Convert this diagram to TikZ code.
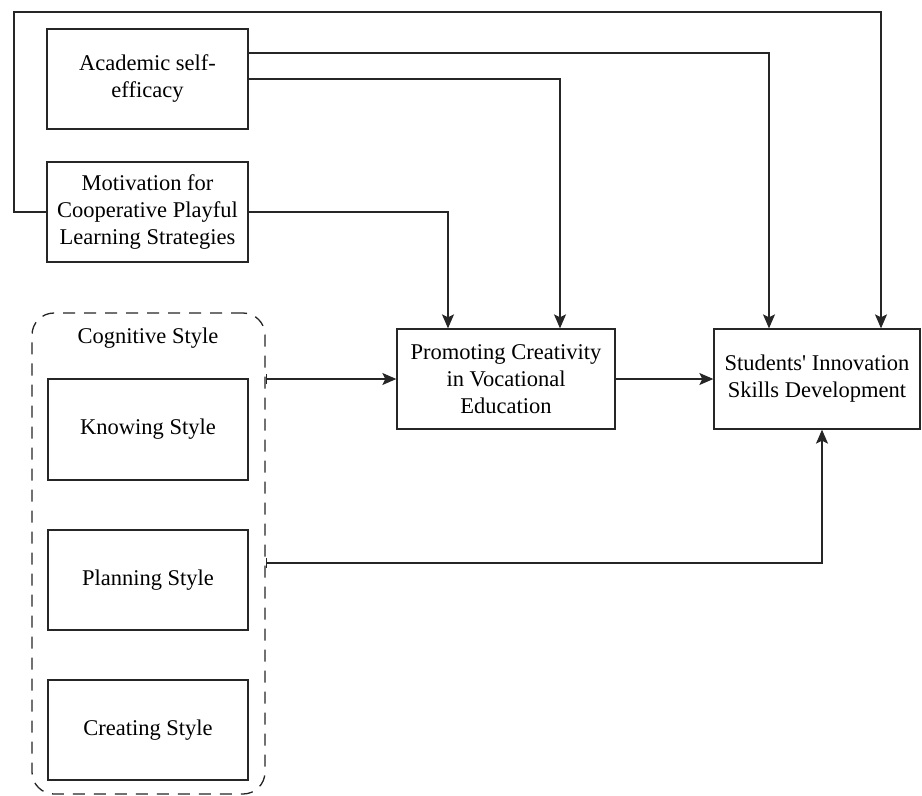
\documentclass[tikz,border=0pt]{standalone}
\usepackage{fontspec}
\setmainfont{Liberation Serif}
\usetikzlibrary{arrows.meta}
\begin{document}
\begin{tikzpicture}[x=1pt,y=-1pt,
  box/.style={draw=black!85, line width=1.3pt, rectangle, align=center, inner sep=0pt, font=\fontsize{22.5}{27}\selectfont},
  group/.style={draw=black!85, line width=1.3pt, dash pattern=on 12pt off 9pt, rounded corners=22pt, rectangle},
  lbl/.style={font=\fontsize{22.5}{27}\selectfont, inner sep=0pt},
  conn/.style={draw=black!85, line width=1.3pt, -{Stealth[length=14pt,width=12pt,inset=3pt]}},
  tick/.style={{Bar[width=10pt,line width=1.3pt]}-{Stealth[length=14pt,width=12pt,inset=3pt]}}
]
\useasboundingbox (0,0) rectangle (922,796);
\fill[white] (0,0) rectangle (922,796);
% nodes
\node[box, minimum width=201, minimum height=100] (acad) at (147.5,79) {Academic self-\\efficacy};
\node[box, minimum width=201, minimum height=100] (motiv) at (147.5,212) {Motivation for\\Cooperative Playful\\Learning Strategies};
\node[box, minimum width=218, minimum height=100] (promo) at (506,379) {Promoting Creativity\\in Vocational\\Education};
\node[box, minimum width=206, minimum height=100] (stud) at (817,379) {Students\textquotesingle\ Innovation\\Skills Development};
\node[group, minimum width=233, minimum height=481] (cog) at (148.5,553.5) {};
\node[lbl] (cogl) at (148,338) {Cognitive Style};
\node[box, minimum width=200, minimum height=101] (know) at (148,429.5) {Knowing Style};
\node[box, minimum width=200, minimum height=100] (plan) at (148,580) {Planning Style};
\node[box, minimum width=200, minimum height=100] (creat) at (148,730) {Creating Style};
% lane coordinates
\coordinate (loopL) at (14,12);
\coordinate (a1) at (0,53);
\coordinate (a2) at (0,79);
\coordinate (p1) at (0,563);
% connectors
\draw[conn] (motiv.west) -| (loopL) -| ([xshift=64pt]stud.north);
\draw[conn] (acad.east |- a1) -| ([xshift=-48pt]stud.north);
\draw[conn] (acad.east |- a2) -| ([xshift=54pt]promo.north);
\draw[conn] (motiv.east) -| ([xshift=-58pt]promo.north);
\draw[conn, tick] (cog.east |- promo.west) -- (promo.west);
\draw[conn] (promo.east) -- (stud.west);
\draw[conn, tick] (cog.east |- p1) -| ([xshift=5pt]stud.south);
\end{tikzpicture}
\end{document}
